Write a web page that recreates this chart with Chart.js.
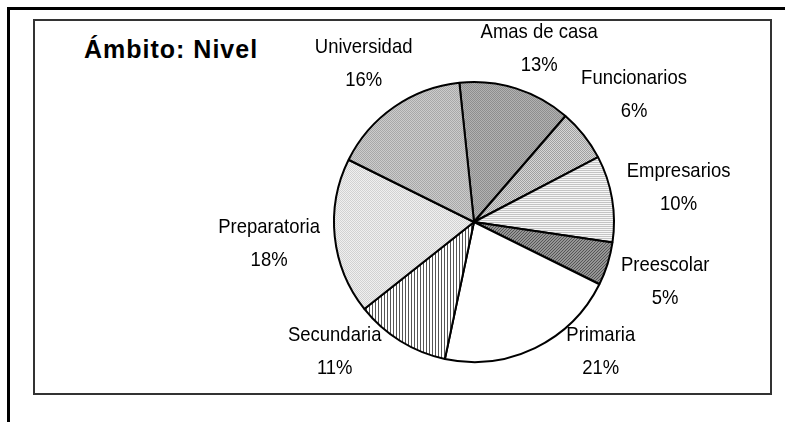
<!DOCTYPE html>
<html lang="es">
<head>
<meta charset="utf-8">
<script src="https://cdn.jsdelivr.net/npm/chart.js@4.4.1/dist/chart.umd.min.js"></script>
<style>
  body { margin: 0; background: #fff; }
  #marco { position: absolute; left: 7px; top: 7px; width: 790px; height: 430px;
           border-top: 3px solid #000; border-left: 3px solid #000; }
  #caja { position: absolute; left: 33px; top: 19px; width: 735px; height: 372px;
          border: 2px solid #333; }
  #titulo { position: absolute; left: 84px; top: 37px; font: bold 25px "Liberation Sans", Arial, sans-serif;
            line-height: 1; letter-spacing: 1px; color: #000; }
  canvas { position: absolute; left: 0; top: 0; }
</style>
</head>
<body>
<div id="marco"></div>
<div id="caja"></div>
<div id="titulo">Ámbito: Nivel</div>
<canvas id="grafica" width="785" height="422"></canvas>
<script>
const categorias = ["Amas de casa", "Funcionarios", "Empresarios", "Preescolar", "Primaria", "Secundaria", "Preparatoria", "Universidad"];
const porcentajes = [13, 6, 10, 5, 21, 11, 18, 16];

// tramas en gris, como las del gráfico original
function trama(w, h, pintar) {
  const c = document.createElement("canvas");
  c.width = w; c.height = h;
  const x = c.getContext("2d");
  pintar(x);
  return x.createPattern(c, "repeat");
}
function cuadros(a, b) {
  return trama(2, 2, x => {
    x.fillStyle = a; x.fillRect(0, 0, 2, 2);
    x.fillStyle = b; x.fillRect(0, 0, 1, 1); x.fillRect(1, 1, 1, 1);
  });
}

const rellenos = [
  cuadros("#b2b2b2", "#8e8e8e"),
  cuadros("#d6d6d6", "#a0a0a0"),
  trama(2, 2, x => {
    x.fillStyle = "#f6f6f6"; x.fillRect(0, 0, 2, 2);
    x.fillStyle = "#c4c4c4"; x.fillRect(0, 0, 2, 1);
  }),
  trama(3, 3, x => {
    x.fillStyle = "#959595"; x.fillRect(0, 0, 3, 3);
    x.fillStyle = "#555";
    x.fillRect(0, 2, 1, 1); x.fillRect(1, 1, 1, 1); x.fillRect(2, 0, 1, 1);
  }),
  "#ffffff",
  trama(3, 1, x => {
    x.fillStyle = "#ffffff"; x.fillRect(0, 0, 3, 1);
    x.fillStyle = "#555"; x.fillRect(0, 0, 1, 1);
  }),
  cuadros("#f0f0f0", "#d2d2d2"),
  cuadros("#cccccc", "#a8a8a8")
];

// etiquetas fuera del pastel: nombre y porcentaje (letra algo estrecha)
const etiquetas = {
  id: "etiquetas",
  afterDatasetsDraw(chart, args, opts) {
    const ctx = chart.ctx;
    const meta = chart.getDatasetMeta(0);
    const k = opts.estrecho;
    ctx.save();
    ctx.font = "21px 'Liberation Sans', Arial, sans-serif";
    ctx.fillStyle = "#000";
    ctx.textAlign = "center";
    ctx.textBaseline = "middle";
    meta.data.forEach((arc, i) => {
      const p = arc.getProps(["x", "y", "startAngle", "endAngle", "outerRadius"], true);
      const medio = (p.startAngle + p.endAngle) / 2;
      const nombre = categorias[i];
      const pct = porcentajes[i] + "%";
      const w = k * Math.max(ctx.measureText(nombre).width, ctx.measureText(pct).width);
      const cos = Math.cos(medio), sin = Math.sin(medio);
      const d = p.outerRadius + opts.separacion + Math.abs(cos) * w / 2 + Math.abs(sin) * opts.medioAlto;
      let lx = p.x + cos * d, ly = p.y + sin * d;
      if (ly < opts.yMin || ly > opts.yMax) {
        ly = Math.min(Math.max(ly, opts.yMin), opts.yMax);
        lx = p.x + Math.sign(cos) * Math.sqrt(Math.max(d * d - (ly - p.y) ** 2, 0));
      }
      ctx.save();
      ctx.translate(lx, ly);
      ctx.scale(k, 1);
      ctx.fillText(nombre, 0, -16.5);
      ctx.fillText(pct, 0, 16.5);
      ctx.restore();
    });
    ctx.restore();
  }
};

new Chart(document.getElementById("grafica"), {
  type: "pie",
  data: {
    labels: categorias,
    datasets: [{
      data: porcentajes,
      backgroundColor: rellenos,
      borderColor: "#000",
      borderWidth: 2,
      hoverOffset: 0
    }]
  },
  options: {
    responsive: false,
    animation: false,
    devicePixelRatio: 1,
    rotation: -6,
    radius: 140,
    layout: { padding: { left: 324, right: 161, top: 72, bottom: 50 } },
    plugins: {
      legend: { display: false },
      tooltip: { enabled: false },
      etiquetas: { separacion: 14, medioAlto: 14, estrecho: 0.88, yMin: 49, yMax: 352 }
    }
  },
  plugins: [etiquetas]
});
</script>
</body>
</html>
